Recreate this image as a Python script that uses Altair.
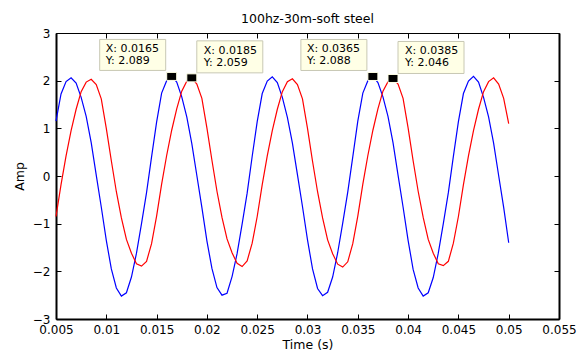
import altair as alt
import pandas as pd

# sample times (s), 0.5 ms step from 0.005 to 0.05
time_s = [round(0.005 + 0.0005 * i, 4) for i in range(91)]

blue_amp = [
    1.15, 1.72, 1.98, 2.06, 1.95, 1.65, 1.25, 0.70, 0.02, -0.65,
    -1.35, -1.95, -2.35, -2.52, -2.45, -2.12, -1.62, -1.00, -0.35, 0.40,
    1.13, 1.74, 2.00, 2.089, 1.97, 1.66, 1.24, 0.68, 0.01, -0.66,
    -1.36, -1.94, -2.34, -2.50, -2.46, -2.11, -1.63, -1.01, -0.36, 0.41,
    1.14, 1.73, 1.99, 2.08, 1.96, 1.65, 1.23, 0.69, 0.03, -0.64,
    -1.34, -1.95, -2.36, -2.51, -2.44, -2.12, -1.61, -0.99, -0.34, 0.40,
    1.15, 1.74, 2.00, 2.088, 1.96, 1.66, 1.25, 0.70, 0.02, -0.65,
    -1.35, -1.96, -2.35, -2.52, -2.45, -2.13, -1.62, -1.00, -0.35, 0.41,
    1.14, 1.73, 1.99, 2.09, 1.97, 1.65, 1.24, 0.69, 0.01, -0.66,
    -1.40,
]

red_amp = [
    -0.85, -0.18, 0.42, 0.95, 1.40, 1.77, 1.97, 2.03, 1.92, 1.62,
    1.00, 0.32, -0.33, -0.88, -1.33, -1.62, -1.84, -1.89, -1.79, -1.42,
    -0.84, -0.17, 0.43, 0.96, 1.41, 1.78, 1.99, 2.059, 1.93, 1.63,
    1.01, 0.33, -0.32, -0.87, -1.32, -1.61, -1.83, -1.90, -1.78, -1.41,
    -0.85, -0.18, 0.42, 0.95, 1.40, 1.77, 1.98, 2.04, 1.92, 1.62,
    1.00, 0.31, -0.33, -0.88, -1.34, -1.63, -1.85, -1.91, -1.80, -1.42,
    -0.84, -0.17, 0.43, 0.96, 1.41, 1.78, 1.98, 2.046, 1.93, 1.63,
    1.01, 0.32, -0.32, -0.87, -1.33, -1.62, -1.84, -1.88, -1.79, -1.41,
    -0.85, -0.18, 0.42, 0.95, 1.40, 1.77, 1.98, 2.06, 1.93, 1.63,
    1.10,
]

series_names = ["blue", "red"]
series_colors = ["#0000FF", "#FF0000"]

tip_x = [0.0165, 0.0185, 0.0365, 0.0385]
tip_y = [2.089, 2.059, 2.088, 2.046]
tip_side = ["left", "right", "left", "right"]

x_ticks = [0.005, 0.01, 0.015, 0.02, 0.025, 0.03, 0.035, 0.04, 0.045, 0.05, 0.055]
y_ticks = [-3, -2, -1, 0, 1, 2, 3]

title_text = "100hz-30m-soft steel"
x_title = "Time (s)"
y_title = "Amp"

FONT = "DejaVu Sans"

df = pd.DataFrame({
    "t": time_s + time_s,
    "amp": blue_amp + red_amp,
    "series": [series_names[0]] * len(time_s) + [series_names[1]] * len(time_s),
})

tips = pd.DataFrame({
    "x": tip_x,
    "y": tip_y,
    "side": tip_side,
    "lx": [f"X: {v}" for v in tip_x],
    "ly": [f"Y: {v:.3f}" for v in tip_y],
})

xs = alt.Scale(domain=[x_ticks[0], x_ticks[-1]], nice=False, zero=False)
ys = alt.Scale(domain=[y_ticks[0], y_ticks[-1]], nice=False, zero=False)

lines = alt.Chart(df).mark_line(strokeWidth=1.2).encode(
    x=alt.X("t:Q", scale=xs, axis=alt.Axis(
        orient="bottom", values=x_ticks, format="~g", title=x_title,
        tickSize=0, domainWidth=2, domainColor="black", labelPadding=5,
        labelFont=FONT, labelFontSize=12, labelColor="black",
        titleFont=FONT, titleFontSize=12.5, titleFontWeight="normal",
        titleColor="black", titlePadding=3, grid=False, labelFlush=False)),
    y=alt.Y("amp:Q", scale=ys, axis=alt.Axis(
        orient="left", values=y_ticks, title=y_title,
        tickSize=0, domainWidth=2, domainColor="black", labelPadding=6,
        labelFont=FONT, labelFontSize=12, labelColor="black",
        titleFont=FONT, titleFontSize=12.5, titleFontWeight="normal",
        titleColor="black", titlePadding=6, grid=False, labelFlush=False)),
    color=alt.Color("series:N", scale=alt.Scale(domain=series_names, range=series_colors), legend=None),
    detail="series:N",
)

def tick_layer(xo, yo):
    return alt.Chart(df).mark_point(opacity=0).encode(
        x=alt.X("t:Q", scale=xs, axis=alt.Axis(
            orient=xo, offset=-5, values=x_ticks, tickSize=5, tickColor="black",
            tickWidth=1, labels=False, domain=False, title=None, grid=False)),
        y=alt.Y("amp:Q", scale=ys, axis=alt.Axis(
            orient=yo, offset=-5, values=y_ticks, tickSize=5, tickColor="black",
            tickWidth=1, labels=False, domain=False, title=None, grid=False)),
    )

ticks_in = tick_layer("bottom", "left")
ticks_out = tick_layer("top", "right")

# top and right frame edges
frame = alt.Chart(df).mark_point(opacity=0).encode(
    x=alt.X("t:Q", scale=xs, axis=alt.Axis(
        orient="top", values=x_ticks, ticks=False, labels=False, domain=True,
        domainColor="black", domainWidth=1, title=None, grid=False)),
    y=alt.Y("amp:Q", scale=ys, axis=alt.Axis(
        orient="right", values=y_ticks, ticks=False, labels=False, domain=True,
        domainColor="black", domainWidth=2, title=None, grid=False)),
)

box_left = "M-72,-37H-6V-6H-72Z"
box_right = "M5,-37H71V-5H5Z"
marker_path = "M-5,-4H5V4H-5Z"

def boxes(side, path):
    return alt.Chart(tips).transform_filter(alt.datum.side == side).mark_point(
        shape=path, size=4, filled=True, fill="#FFFFE6", stroke="#C8C8B4",
        strokeWidth=1, opacity=1).encode(
        x=alt.X("x:Q", scale=xs, axis=None),
        y=alt.Y("y:Q", scale=ys, axis=None),
    )

def texts(side, dx, field, dy):
    return alt.Chart(tips).transform_filter(alt.datum.side == side).mark_text(
        align="left", baseline="middle", dx=dx, dy=dy, font=FONT, fontSize=11,
        color="black").encode(
        x=alt.X("x:Q", scale=xs, axis=None),
        y=alt.Y("y:Q", scale=ys, axis=None),
        text=f"{field}:N",
    )

markers = alt.Chart(tips).mark_point(
    shape=marker_path, size=4, filled=True, fill="black", stroke="#FFFFE6",
    strokeWidth=1, opacity=1).encode(
    x=alt.X("x:Q", scale=xs, axis=None),
    y=alt.Y("y:Q", scale=ys, axis=None),
)

chart = alt.layer(
    lines, ticks_in, ticks_out, frame,
    boxes("left", box_left), boxes("right", box_right),
    markers,
    texts("left", -66, "lx", -27), texts("left", -66, "ly", -15),
    texts("right", 12, "lx", -27), texts("right", 12, "ly", -15),
).resolve_axis(x="independent", y="independent").properties(
    width=503, height=286,
    title=alt.TitleParams(title_text, font=FONT, fontSize=12.5, fontWeight="normal",
                          color="black", anchor="middle", offset=2),
    autosize=alt.AutoSizeParams(type="none"),
    padding={"left": 48, "top": 25, "right": 20, "bottom": 32},
).configure_view(stroke=None).configure(background="white")

chart.save("out.html", embed_options={"renderer": "svg", "actions": False})
